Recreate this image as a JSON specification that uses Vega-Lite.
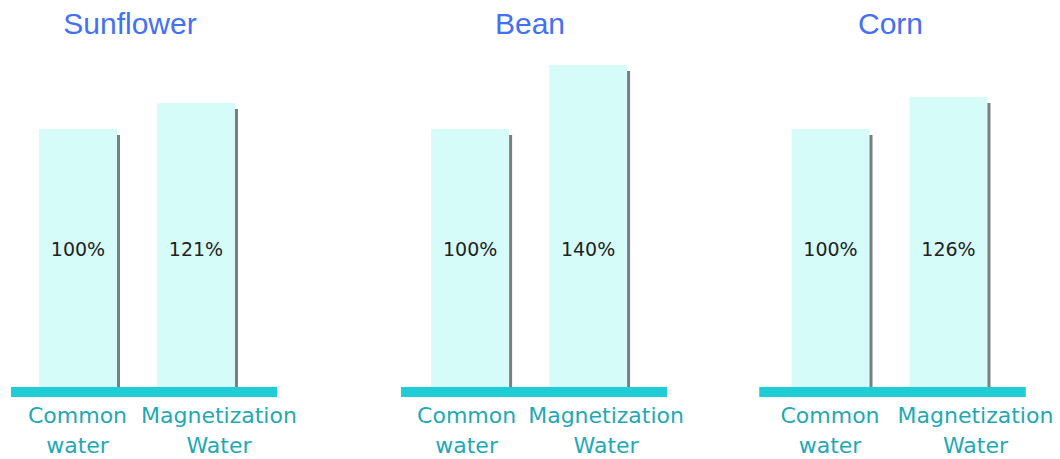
{
  "$schema": "https://vega.github.io/schema/vega-lite/v6.json",
  "background": "white",
  "padding": {"left": 6, "top": 10, "right": 0, "bottom": 0},
  "config": {
    "view": {"stroke": null},
    "title": {"font": "Liberation Sans", "fontSize": 30, "fontWeight": "normal", "color": "#4470f4", "anchor": "middle", "offset": 20},
    "axis": {"domain": false, "ticks": false, "tickSize": 0, "grid": false, "title": null, "labelFont": "DejaVu Sans", "labelFontSize": 22, "labelColor": "#1fa9b4", "labelLineHeight": 30, "labelPadding": 13, "labelAngle": 0}
  },
  "data": {"values": [
    {"crop": "Sunflower", "water": "Common water", "value": 1.00},
    {"crop": "Sunflower", "water": "Magnetization Water", "value": 1.21},
    {"crop": "Bean", "water": "Common water", "value": 1.00},
    {"crop": "Bean", "water": "Magnetization Water", "value": 1.40},
    {"crop": "Corn", "water": "Common water", "value": 1.00},
    {"crop": "Corn", "water": "Magnetization Water", "value": 1.26}
  ]},
  "bounds": "full",
  "spacing": 70.5,
  "hconcat": [
    {
      "bounds": "flush",
      "spacing": 124,
      "hconcat": [
        {
          "title": {"text": "Sunflower", "dx": -14},
          "width": 266, "height": 332,
          "transform": [{"filter": "datum.crop === 'Sunflower'"}],
          "layer": [
            {"mark": {"type": "bar", "color": "#d5fcf8"},
             "encoding": {
               "x": {"field": "water", "type": "nominal", "sort": null, "scale": {"paddingInner": 0.339, "paddingOuter": 0.297, "align": 0.4},
                     "axis": {"labelExpr": "split(datum.label, ' ')", "labelOffset": {"condition": {"test": "datum.value === 'Magnetization Water'", "value": 23}, "value": -0.5}}},
               "y": {"field": "value", "type": "quantitative", "scale": {"domain": [-1.124, 1.558], "zero": false, "nice": false}, "axis": null},
               "y2": {"datum": -1.124}}},
            {"mark": {"type": "bar", "color": "#7d7d7d", "width": 3, "xOffset": 40.5, "yOffset": 6},
             "encoding": {
               "x": {"field": "water", "type": "nominal", "sort": null},
               "y": {"field": "value", "type": "quantitative", "axis": null},
               "y2": {"datum": -1.124}}},
            {"mark": {"type": "text", "dy": 121, "font": "DejaVu Sans", "fontSize": 19, "color": "#222222"},
             "encoding": {
               "x": {"field": "water", "type": "nominal", "sort": null},
               "y": {"datum": 1, "type": "quantitative", "axis": null},
               "text": {"field": "value", "type": "quantitative", "format": ".0%"}}},
            {"mark": {"type": "rule", "color": "#1ecdd5", "strokeWidth": 10},
             "encoding": {"y": {"datum": -1.124, "type": "quantitative", "axis": null}}}
          ]
        },
        {
          "title": {"text": "Bean", "dx": -4},
          "width": 266, "height": 332,
          "transform": [{"filter": "datum.crop === 'Bean'"}],
          "layer": [
            {"mark": {"type": "bar", "color": "#d5fcf8"},
             "encoding": {
               "x": {"field": "water", "type": "nominal", "sort": null, "scale": {"paddingInner": 0.339, "paddingOuter": 0.297, "align": 0.43},
                     "axis": {"labelExpr": "split(datum.label, ' ')", "labelOffset": {"condition": {"test": "datum.value === 'Magnetization Water'", "value": 18}, "value": -3.5}}},
               "y": {"field": "value", "type": "quantitative", "scale": {"domain": [-0.644, 1.431], "zero": false, "nice": false}, "axis": null},
               "y2": {"datum": -0.644}}},
            {"mark": {"type": "bar", "color": "#7d7d7d", "width": 3, "xOffset": 40.5, "yOffset": 6},
             "encoding": {
               "x": {"field": "water", "type": "nominal", "sort": null},
               "y": {"field": "value", "type": "quantitative", "axis": null},
               "y2": {"datum": -0.644}}},
            {"mark": {"type": "text", "dy": 121, "font": "DejaVu Sans", "fontSize": 19, "color": "#222222"},
             "encoding": {
               "x": {"field": "water", "type": "nominal", "sort": null},
               "y": {"datum": 1, "type": "quantitative", "axis": null},
               "text": {"field": "value", "type": "quantitative", "format": ".0%"}}},
            {"mark": {"type": "rule", "color": "#1ecdd5", "strokeWidth": 10},
             "encoding": {"y": {"datum": -0.644, "type": "quantitative", "axis": null}}}
          ]
        }
      ]
    },
    {
      "title": {"text": "Corn", "dx": -2},
      "width": 266, "height": 332,
      "transform": [{"filter": "datum.crop === 'Corn'"}],
      "layer": [
        {"mark": {"type": "bar", "color": "#d5fcf8"},
         "encoding": {
           "x": {"field": "water", "type": "nominal", "sort": null, "scale": {"paddingInner": 0.339, "paddingOuter": 0.297, "align": 0.457},
                 "axis": {"labelExpr": "split(datum.label, ' ')", "labelOffset": {"condition": {"test": "datum.value === 'Magnetization Water'", "value": 27}, "value": -0.5}}},
           "y": {"field": "value", "type": "quantitative", "scale": {"domain": [-1.137, 1.560], "zero": false, "nice": false}, "axis": null},
           "y2": {"datum": -1.137}}},
        {"mark": {"type": "bar", "color": "#7d7d7d", "width": 3, "xOffset": 40.5, "yOffset": 6},
         "encoding": {
           "x": {"field": "water", "type": "nominal", "sort": null},
           "y": {"field": "value", "type": "quantitative", "axis": null},
           "y2": {"datum": -1.137}}},
        {"mark": {"type": "text", "dy": 121, "font": "DejaVu Sans", "fontSize": 19, "color": "#222222"},
         "encoding": {
           "x": {"field": "water", "type": "nominal", "sort": null},
           "y": {"datum": 1, "type": "quantitative", "axis": null},
           "text": {"field": "value", "type": "quantitative", "format": ".0%"}}},
        {"mark": {"type": "rule", "color": "#1ecdd5", "strokeWidth": 10},
         "encoding": {"y": {"datum": -1.137, "type": "quantitative", "axis": null}}}
      ]
    }
  ]
}
